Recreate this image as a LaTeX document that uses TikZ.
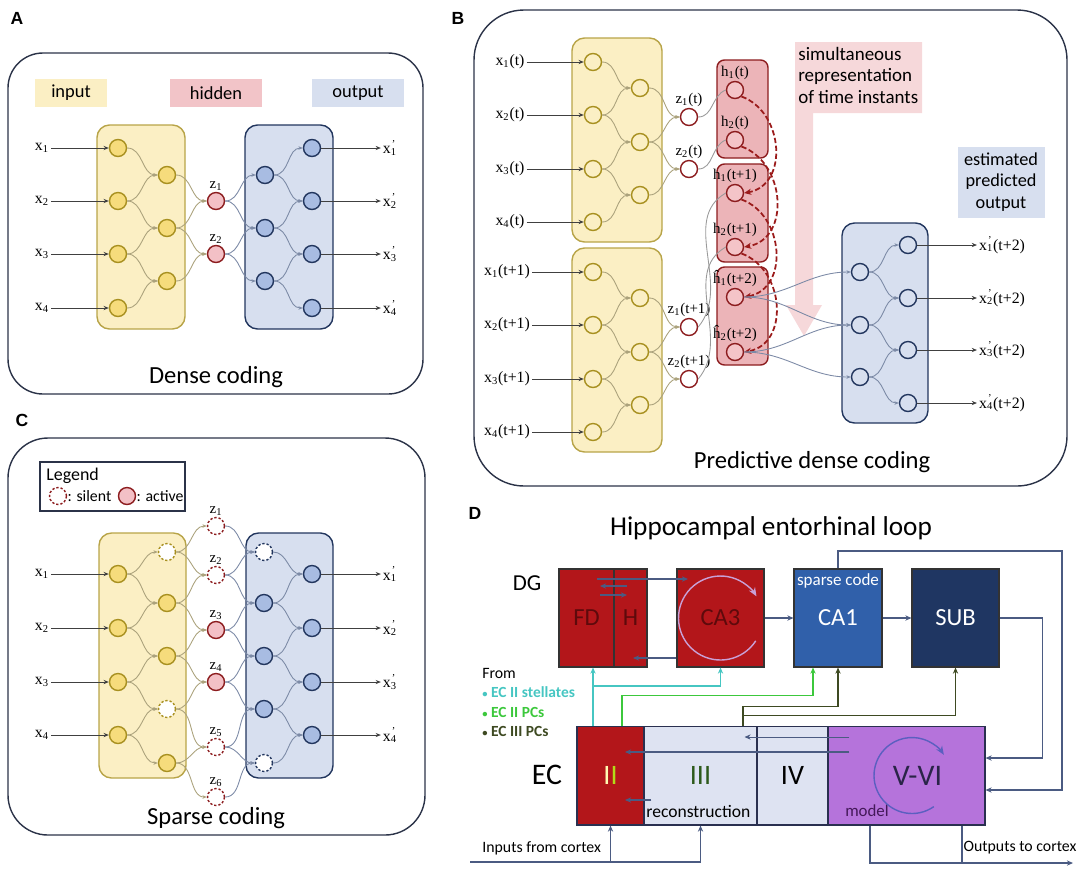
\documentclass[tikz,border=0pt]{standalone}
\usepackage{fontspec}
\setmainfont{Liberation Serif}
\newfontfamily\sansf{Carlito}
\newfontfamily\tagf{Liberation Sans}
\usetikzlibrary{arrows.meta,positioning}

\definecolor{frame}{HTML}{2B3348}
\definecolor{inyel}{HTML}{FBEFC4}
\definecolor{indraw}{HTML}{B8A448}
\definecolor{ydraw}{HTML}{A89020}
\definecolor{ynfill}{HTML}{F6DC7C}
\definecolor{outblu}{HTML}{D7DFEF}
\definecolor{outdraw}{HTML}{22365E}
\definecolor{bnfill}{HTML}{A8BCE2}
\definecolor{hidpink}{HTML}{F3C0C6}
\definecolor{hidkey}{HTML}{F2C4C8}
\definecolor{hiddraw}{HTML}{8C1C1E}
\definecolor{hboxfill}{HTML}{ECB4B8}
\definecolor{hnfill}{HTML}{F4C4C8}
\definecolor{yline}{HTML}{ABA27C}
\definecolor{bline}{HTML}{7C8AA6}
\definecolor{gline}{HTML}{9A9A9A}
\definecolor{recred}{HTML}{9B1B1B}
\definecolor{simpink}{HTML}{F6D8DA}
\definecolor{dgred}{HTML}{B3161A}
\definecolor{dgtext}{HTML}{5E0A0C}
\definecolor{ecpale}{HTML}{DEE3F2}
\definecolor{laydraw}{HTML}{2A3050}
\definecolor{ca1blue}{HTML}{3060AA}
\definecolor{subblue}{HTML}{1F3662}
\definecolor{vviviolet}{HTML}{B573DB}
\definecolor{vvitext}{HTML}{2A2448}
\definecolor{dline}{HTML}{4B5B82}
\definecolor{stell}{HTML}{46C6C2}
\definecolor{pcgreen}{HTML}{3CC83C}
\definecolor{ecthree}{HTML}{3E4A22}
\definecolor{iigreen}{HTML}{2D5A1B}
\definecolor{arcpurple}{HTML}{C9A0D6}
\definecolor{arcblue}{HTML}{5B5FC0}

\newcommand{\xs}[1]{x\textsubscript{#1}}
\newcommand{\xp}[1]{x\rlap{\textsuperscript{\kern0.6pt'}}\textsubscript{#1}}
\newcommand{\bul}{{\fontsize{6}{6}\selectfont\textbullet}}

\begin{document}
\begin{tikzpicture}[x=0.02cm,y=-0.02cm,
  panel/.style={draw=frame,line width=0.8pt,rounded corners=#1},
  panel/.default=0.7cm,
  tag/.style={font=\tagf\bfseries\fontsize{10}{12}\selectfont},
  caption/.style={font=\sansf\fontsize{14}{16}\selectfont},
  keylab/.style={font=\sansf\fontsize{10.5}{12}\selectfont,minimum height=0.56cm,inner sep=0pt},
  inbox/.style={draw=indraw,fill=inyel,line width=0.8pt,rounded corners=0.25cm},
  outbox/.style={draw=outdraw,fill=outblu,line width=0.8pt,rounded corners=0.25cm},
  hbox/.style={draw=hiddraw,fill=hboxfill,line width=0.8pt,rounded corners=0.15cm},
  unit/.style={circle,minimum size=0.34cm,inner sep=0pt,line width=0.8pt},
  ynode/.style={unit,draw=ydraw,fill=ynfill},
  bnode/.style={unit,draw=outdraw,fill=bnfill},
  znode/.style={unit,draw=hiddraw,fill=hidpink},
  yring/.style={unit,draw=ydraw},
  bring/.style={unit,draw=outdraw},
  zring/.style={unit,draw=hiddraw,fill=white},
  hring/.style={unit,draw=hiddraw,fill=hnfill},
  silent/.style={unit,dash pattern=on 1.3pt off 1.1pt,fill=white,draw=#1},
  silent/.default=hiddraw,
  xlab/.style={font=\fontsize{9}{10}\selectfont,inner sep=1pt},
  tlab/.style={font=\fontsize{8.5}{10}\selectfont,inner sep=0.5pt},
  yconn/.style={draw=yline,line width=0.5pt,-{Stealth[length=2.5pt,width=2pt]}},
  bconn/.style={draw=bline,line width=0.5pt,-{Stealth[length=2.5pt,width=2pt]}},
  gconn/.style={draw=gline,line width=0.5pt},
  feed/.style={draw=black!75,line width=0.5pt,-{Stealth[length=3pt,width=2.4pt]}},
  recur/.style={draw=recred,line width=1pt,dash pattern=on 3pt off 1.5pt,-{Stealth[length=4pt,width=3.5pt]}},
  region/.style={draw=black!80,line width=0.6pt,minimum height=1.96cm,inner sep=0pt,font=\sansf\fontsize{14}{16}\selectfont},
  layer/.style={draw=laydraw,line width=0.6pt,minimum height=1.98cm,inner sep=0pt,font=\sansf\fontsize{16}{18}\selectfont},
  loopline/.style={draw=dline,line width=0.6pt,-{Stealth[length=3.5pt,width=3pt]}},
  plainline/.style={draw=dline,line width=0.6pt},
  stel/.style={draw=stell,line width=0.8pt,-{Stealth[length=3.5pt,width=3pt]}},
  pcii/.style={draw=pcgreen,line width=0.8pt,-{Stealth[length=3.5pt,width=3pt]}},
  pciii/.style={draw=ecthree,line width=0.7pt,-{Stealth[length=3.5pt,width=3pt]}},
  swirl/.style={line width=0.8pt,-{Stealth[length=5pt,width=4pt]}},
  dtext/.style={font=\sansf\fontsize{9}{10}\selectfont,inner sep=0pt}
]
\useasboundingbox (0,0) rectangle (1084,870);

% ---------------- panel A: dense coding
\node[tag] (tagA) at (17,18) {A};
\draw[panel] (8,53) rectangle (423,394);
\node[keylab,fill=inyel,minimum width=1.46cm] (akin) at (71,93) {input};
\node[keylab,fill=hidkey,minimum width=1.84cm] (akhid) at (216,93) {hidden};
\node[keylab,fill=outblu,minimum width=1.84cm] (akout) at (358,93) {output};
\draw[inbox] (97,125) rectangle (185,329);
\draw[outbox] (245,125) rectangle (333,329);
\foreach \i/\y in {1/148,2/201,3/254,4/308} {
  \node[ynode] (ai\i) at (118,\y) {};
  \node[bnode] (ao\i) at (312,\y) {};
  \node[xlab] (ax\i) at (42,\y) {\xs{\i}};
  \node[xlab] (axo\i) at (390,\y) {\xp{\i}};
  \draw[feed] (ax\i) -- (ai\i);
  \draw[feed] (ao\i) -- (axo\i);
}
\foreach \i/\y in {1/175,2/228,3/281} {
  \node[ynode] (aj\i) at (167,\y) {};
  \node[bnode] (ab\i) at (265,\y) {};
}
\node[znode] (az1) at (216,201) {};
\node[znode] (az2) at (216,254) {};
\node[tlab,above=0pt of az1] (azl1) {z\textsubscript{1}};
\node[tlab,above=0pt of az2] (azl2) {z\textsubscript{2}};
\foreach \s/\t in {ai1/aj1,ai2/aj1,ai2/aj2,ai3/aj2,ai3/aj3,ai4/aj3,aj1/az1,aj2/az1,aj2/az2,aj3/az2}
  \draw[yconn] (\s.east) to[out=0,in=180] (\t.west);
\foreach \s/\t in {az1/ab1,az1/ab2,az2/ab2,az2/ab3,ab1/ao1,ab1/ao2,ab2/ao2,ab2/ao3,ab3/ao3,ab3/ao4}
  \draw[bconn] (\s.east) to[out=0,in=180] (\t.west);
\node[caption] (capA) at (216,377) {Dense coding};

% ---------------- panel B: predictive dense coding
\node[tag] (tagB) at (458,18) {B};
\draw[panel=1cm] (474,10) rectangle (1067,486);
% simultaneous representation band and arrow
\fill[simpink] (795,42) -- (922,42) -- (922,113) -- (813,113) -- (813,305) -- (822,305)
  -- (804,336) -- (786,305) -- (795,305) -- cycle;
\node[anchor=north west,align=left,inner sep=0pt,font=\sansf\fontsize{10.8}{12.2}\selectfont] (bsim) at (798,47)
  {simultaneous\\representation\\of time instants};
\node[fill=outblu,align=center,minimum width=1.74cm,minimum height=1.42cm,inner sep=0pt,
  font=\sansf\fontsize{10.4}{12.2}\selectfont] (bkey) at (1001,182) {estimated\\predicted\\output};
\draw[inbox] (572,38) rectangle (662,242);
\draw[inbox] (572,248) rectangle (662,452);
\draw[hbox] (717,60) rectangle (768,158);
\draw[hbox] (717,164) rectangle (768,262);
\draw[hbox] (717,267) rectangle (768,365);
\draw[outbox] (842,223) rectangle (928,423);
\foreach \i/\y in {1/62,2/115,3/169,4/222} {
  \node[yring] (bu\i) at (593,\y) {};
  \node[xlab] (bx\i) at (510,\y) {\xs{\i}(t)};
  \draw[feed] (bx\i) -- (bu\i);
}
\foreach \i/\y in {1/272,2/325,3/379,4/432} {
  \node[yring] (bl\i) at (593,\y) {};
  \node[xlab] (bxx\i) at (507,\y) {\xs{\i}(t+1)};
  \draw[feed] (bxx\i) -- (bl\i);
}
\foreach \i/\y in {1/88,2/142,3/195} \node[yring] (bv\i) at (640,\y) {};
\foreach \i/\y in {1/298,2/352,3/405} \node[yring] (bm\i) at (640,\y) {};
\node[zring] (bz1) at (689,117) {};
\node[zring] (bz2) at (689,169) {};
\node[zring] (bz3) at (689,327) {};
\node[zring] (bz4) at (689,379) {};
\node[tlab,above=0pt of bz1] (bzl1) {z\textsubscript{1}(t)};
\node[tlab,above=0pt of bz2] (bzl2) {z\textsubscript{2}(t)};
\node[tlab,above=0pt of bz3] (bzl3) {z\textsubscript{1}(t+1)};
\node[tlab,above=0pt of bz4] (bzl4) {z\textsubscript{2}(t+1)};
\foreach \i/\y/\t in {1/90/h\textsubscript{1}(t),2/140/h\textsubscript{2}(t),3/193/h\textsubscript{1}(t+1),
    4/247/h\textsubscript{2}(t+1),5/297/\^h\textsubscript{1}(t+2),6/352/\^h\textsubscript{2}(t+2)} {
  \node[hring] (bh\i) at (735,\y) {};
  \node[tlab,above=0pt of bh\i] (bhl\i) {\t};
}
\foreach \i/\y in {1/272,2/325,3/377} \node[bring] (bb\i) at (860,\y) {};
\foreach \i/\y in {1/245,2/298,3/350,4/403} {
  \node[bring] (bo\i) at (908,\y) {};
  \node[xlab] (bxo\i) at (1002,\y) {\xp{\i}(t+2)};
  \draw[feed] (bo\i) -- (bxo\i);
}
\foreach \s/\t in {bu1/bv1,bu2/bv1,bu2/bv2,bu3/bv2,bu3/bv3,bu4/bv3,bv1/bz1,bv2/bz1,bv2/bz2,bv3/bz2,
    bl1/bm1,bl2/bm1,bl2/bm2,bl3/bm2,bl3/bm3,bl4/bm3,bm1/bz3,bm2/bz3,bm2/bz4,bm3/bz4}
  \draw[yconn] (\s.east) to[out=0,in=180] (\t.west);
\draw[gconn] (bz1.east) to[out=0,in=200] (bh1.west);
\draw[gconn] (bz2.east) to[out=0,in=200] (bh2.west);
\draw[gconn] (bz3.east) to[out=50,in=210] (bh3.west);
\draw[gconn] (bz4.east) to[out=50,in=210] (bh4.west);
\draw[recur] (bh1.south east) to[out=-20,in=10,looseness=1.2] (bh3.east);
\draw[recur] (bh2.south east) to[out=-20,in=10,looseness=1.2] (bh4.east);
\draw[recur] (bh3.south east) to[out=-20,in=10,looseness=1.2] (bh5.east);
\draw[recur] (bh4.south east) to[out=-20,in=10,looseness=1.2] (bh6.east);
\foreach \s/\t in {bh5/bb1,bh5/bb2,bh6/bb2,bh6/bb3,bb1/bo1,bb1/bo2,bb2/bo2,bb2/bo3,bb3/bo3,bb3/bo4}
  \draw[bconn] (\s.east) to[out=0,in=180] (\t.west);
\node[caption] (capB) at (812,462) {Predictive dense coding};

% ---------------- panel C: sparse coding
\node[tag] (tagC) at (22,420) {C};
\draw[panel=0.8cm] (8,438) rectangle (425,835);
\draw[draw=frame,line width=0.6pt] (40,462) rectangle (185,511);
\node[anchor=west,inner sep=0pt,font=\sansf\fontsize{10.2}{12}\selectfont] (cleg) at (46,476) {Legend};
\node[silent] (clsil) at (58,496) {};
\node[anchor=west,inner sep=0pt,font=\sansf\fontsize{9}{10}\selectfont] (clsilt) at (clsil.east) {: silent};
\node[znode] (clact) at (127,496) {};
\node[anchor=west,inner sep=0pt,font=\sansf\fontsize{9}{10}\selectfont] (clactt) at (clact.east) {: active};
\draw[inbox] (99,533) rectangle (186,778);
\draw[outbox] (246,533) rectangle (333,778);
\foreach \i/\y in {1/574,2/628,3/682,4/735} {
  \node[ynode] (ci\i) at (118,\y) {};
  \node[bnode] (co\i) at (312,\y) {};
  \node[xlab] (cx\i) at (42,\y) {\xs{\i}};
  \node[xlab] (cxo\i) at (390,\y) {\xp{\i}};
  \draw[feed] (cx\i) -- (ci\i);
  \draw[feed] (co\i) -- (cxo\i);
}
\node[silent=ydraw] (cj0) at (167,552) {};
\node[ynode] (cj1) at (167,603) {};
\node[ynode] (cj2) at (167,656) {};
\node[silent=ydraw] (cj3) at (167,709) {};
\node[ynode] (cj4) at (167,763) {};
\node[silent=outdraw] (cb0) at (264,552) {};
\node[bnode] (cb1) at (264,603) {};
\node[bnode] (cb2) at (264,656) {};
\node[bnode] (cb3) at (264,709) {};
\node[silent=outdraw] (cb4) at (264,763) {};
\node[silent] (cz1) at (216,526) {};
\node[silent] (cz2) at (216,575) {};
\node[znode] (cz3) at (216,630) {};
\node[znode] (cz4) at (216,682) {};
\node[silent] (cz5) at (216,747) {};
\node[silent] (cz6) at (216,797) {};
\foreach \i in {1,...,6} \node[tlab,above=0pt of cz\i] (czl\i) {z\textsubscript{\i}};
\foreach \s/\t in {ci1/cj0,ci1/cj1,ci2/cj1,ci2/cj2,ci3/cj2,ci3/cj3,ci4/cj3,ci4/cj4,
    cj0/cz1,cj0/cz2,cj1/cz2,cj1/cz3,cj2/cz3,cj2/cz4,cj3/cz4,cj3/cz5,cj4/cz5,cj4/cz6}
  \draw[yconn] (\s.east) to[out=0,in=180] (\t.west);
\foreach \s/\t in {cz1/cb0,cz2/cb0,cz2/cb1,cz3/cb1,cz3/cb2,cz4/cb2,cz4/cb3,cz5/cb3,cz5/cb4,cz6/cb4,
    cb0/co1,cb1/co1,cb1/co2,cb2/co2,cb2/co3,cb3/co3,cb3/co4,cb4/co4}
  \draw[bconn] (\s.east) to[out=0,in=180] (\t.west);
\node[caption] (capC) at (216,818) {Sparse coding};

% ---------------- panel D: hippocampal entorhinal loop
\node[tag] (tagD) at (475,513) {D};
\node[font=\sansf\fontsize{15.5}{17}\selectfont] (dtitle) at (771,528) {Hippocampal entorhinal loop};
\node[font=\sansf\fontsize{13}{15}\selectfont] (dglab) at (527,583) {DG};
\node[font=\sansf\fontsize{17}{19}\selectfont] (eclab) at (547,775) {EC};
\node[region,fill=dgred,text=dgtext,minimum width=1.1cm] (fd) at (586.5,618) {FD};
\node[region,fill=dgred,text=dgtext,minimum width=0.66cm] (dgh) at (630.5,618) {H};
\node[region,fill=dgred,text=dgtext,minimum width=1.74cm] (ca3) at (720.5,618) {CA3};
\node[region,fill=ca1blue,text=white,minimum width=1.76cm] (ca1) at (838,618) {CA1};
\node[region,fill=subblue,text=white,minimum width=1.74cm] (sub) at (955.5,618) {SUB};
\node[text=white,inner sep=0pt,font=\sansf\fontsize{9.7}{11}\selectfont] (ca1tag) at (838,581) {sparse code};
\node[layer,fill=dgred,minimum width=1.34cm] (ecii) at (610.5,775.5) {{\color{white!70!yellow}I}{\color{yellow!70!green}I}};
\node[layer,fill=ecpale,text=iigreen,minimum width=2.26cm] (eciii) at (700.5,775.5) {III};
\node[layer,fill=ecpale,minimum width=1.42cm] (eciv) at (792.5,775.5) {IV};
\node[layer,fill=vviviolet,text=vvitext,minimum width=3.14cm,font=\sansf\fontsize{17}{19}\selectfont] (vvi) at (906.5,775.5) {\hspace*{0.44cm}V-VI};
\node[anchor=west,inner sep=0pt,font=\sansf\fontsize{10}{12}\selectfont] (recon) at (646,811) {reconstruction};
\node[inner sep=0pt,text=vvitext!70!violet,font=\sansf\fontsize{9.6}{11}\selectfont] (model) at (867,811) {model};
% swirls
\draw[swirl,draw=arcpurple] ([shift={(-33:0.84cm)}]ca3.center) arc[start angle=-33,end angle=-329,radius=0.84cm];
\draw[swirl,draw=arcblue] ([shift={(-55:0.76cm)},xshift=0.11cm]vvi.center) arc[start angle=-55,end angle=-327,radius=0.76cm];
% source list
\node[dtext,anchor=west] (dfrom) at (482,673) {From};
\node[dtext,anchor=west,text=stell,font=\sansf\bfseries\fontsize{8.8}{10}\selectfont] (dstel) at (482,692) {\bul\ EC II stellates};
\node[dtext,anchor=west,text=pcgreen,font=\sansf\bfseries\fontsize{8.8}{10}\selectfont] (dpc2) at (482,712) {\bul\ EC II PCs};
\node[dtext,anchor=west,text=ecthree,font=\sansf\bfseries\fontsize{8.8}{10}\selectfont] (dpc3) at (482,731) {\bul\ EC III PCs};
% dentate and CA3 links
\draw[loopline] ([xshift=0.21cm,yshift=0.78cm]fd.center) -- ([xshift=-0.65cm,yshift=0.78cm]ca3.center);
\draw[loopline] ([xshift=-0.07cm,yshift=0.64cm]dgh.center) -- ([xshift=0.27cm,yshift=0.64cm]fd.center);
\draw[loopline] ([xshift=0.27cm,yshift=0.46cm]fd.center) -- ([xshift=-0.07cm,yshift=0.46cm]dgh.center);
\draw[loopline] ([yshift=-0.8cm]ca3.west) -- ([xshift=0.05cm,yshift=-0.8cm]dgh.center);
\draw[loopline] (ca3.east) -- (ca1.west);
\draw[loopline] (ca1.east) -- (sub.west);
% feedback to deep layers
\coordinate (ctop) at (1062,551);
\draw[loopline] (ca1.north) |- (ctop) |- ([yshift=-0.29cm]vvi.east);
\draw[loopline] (sub.east) -- ++(43,0) |- ([yshift=0.35cm]vvi.east);
% EC projections
\draw[stel] ([xshift=-0.35cm]ecii.north) coordinate (cy1) -- (cy1 |- fd.south);
\coordinate (cy2) at (593,686);
\draw[stel] (cy2) -| (ca3.south);
\draw[pcii] ([xshift=0.23cm]ecii.north) -- ++(0,-30) -| ([xshift=-0.5cm]ca1.south);
\draw[pciii] ([xshift=0.85cm]eciii.north) coordinate (e3) -- ++(0,-19) -| (ca1.south);
\draw[pciii] (e3) ++(0,-10) -| (sub.south);
% deep layers back to superficial
\draw[loopline] ([xshift=0.44cm,yshift=0.77cm]vvi.west) -- ([xshift=-0.24cm,yshift=0.77cm]eciv.west);
\draw[loopline] ([xshift=0.44cm,yshift=0.47cm]vvi.west) -- ([xshift=0.29cm,yshift=0.47cm]ecii.center);
\draw[loopline] ([xshift=0.16cm,yshift=-0.49cm]eciii.west) -- ([xshift=0.29cm,yshift=-0.49cm]ecii.center);
% cortex in and out
\coordinate (incort) at (470,862);
\coordinate (outcort) at (1073,863);
\draw[loopline] (incort) -| (ecii.south);
\draw[loopline] (ecii.south |- incort) -| (eciii.south);
\draw[loopline] ([xshift=-0.73cm]vvi.south) |- (outcort);
\draw[plainline] ([xshift=1.11cm]vvi.south) -- ++(0,38);
\node[dtext,anchor=west] (incap) at (482,848) {Inputs from cortex};
\node[dtext] (outcap) at (1020,848) {Outputs to cortex};
\end{tikzpicture}
\end{document}
